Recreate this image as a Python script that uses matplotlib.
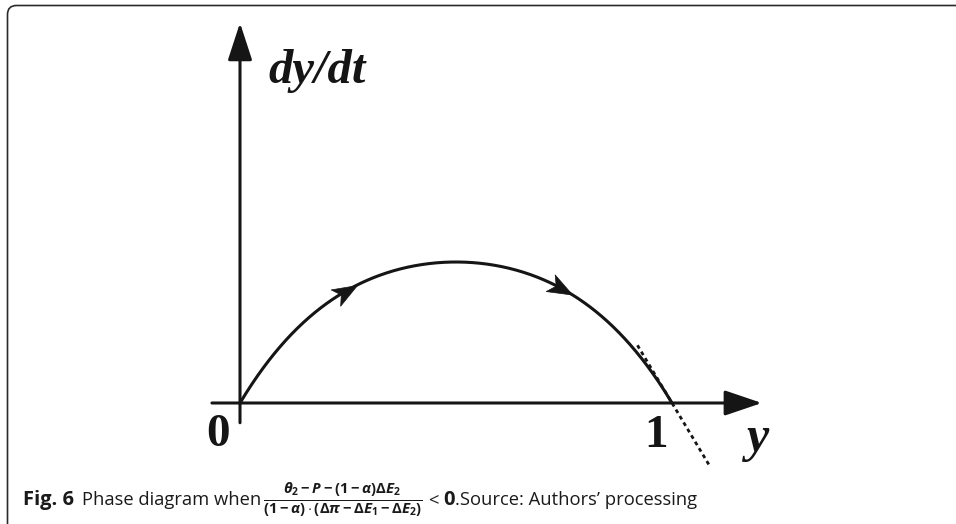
import numpy as np
import matplotlib.pyplot as plt
from matplotlib.markers import MarkerStyle
from matplotlib.patches import FancyBboxPatch
from matplotlib.path import Path

plt.rcParams["mathtext.fontset"] = "custom"
plt.rcParams["mathtext.rm"] = "Open Sans:bold"
plt.rcParams["mathtext.it"] = "Open Sans:bold:italic"
plt.rcParams["mathtext.bf"] = "Open Sans:bold"

# phase dynamic dy/dt = k * y * (1 - y) * (1 + c * (2y - 1)^2)
k_rate = 1.0
c_shape = 0.28
equilibria = [0.0, 1.0]
flow_arrow_y = [0.243, 0.741]
tangent_span = [0.92, 1.088]
eq_labels = ["0", "1"]
x_label = "y"
y_label = "dy/dt"


def phase(y):
    y = np.asarray(y, dtype=float)
    return k_rate * y * (1 - y) * (1 + c_shape * (2 * y - 1) ** 2)


W, H = 956, 524
INK = "#151515"

# pixel layout of the phase plane
origin_px = (240, 403)
unit_x_px = 432
unit_y_px = 564
ax_box_px = (200, 15, 800, 475)  # left, top, right, bottom

fig = plt.figure(figsize=(W / 100, H / 100), dpi=100)
fig.patch.set_facecolor("white")

l, t, r, b = ax_box_px
ax = fig.add_axes([l / W, (H - b) / H, (r - l) / W, (b - t) / H])
ax.set_xlim((l - origin_px[0]) / unit_x_px, (r - origin_px[0]) / unit_x_px)
ax.set_ylim((origin_px[1] - b) / unit_y_px, (origin_px[1] - t) / unit_y_px)
ax.axis("off")

lw = 2.2

# axes with arrow heads
x_end = 1.208
y_end = 0.674
ax.annotate("", xy=(x_end, 0), xytext=(-0.065, 0),
            arrowprops=dict(arrowstyle="-|>,head_length=23,head_width=7.8",
                            mutation_scale=1, lw=lw, color=INK, fc=INK,
                            shrinkA=0, shrinkB=0))
ax.annotate("", xy=(0, y_end), xytext=(0, -0.035),
            arrowprops=dict(arrowstyle="-|>,head_length=23,head_width=7.5",
                            mutation_scale=1, lw=lw, color=INK, fc=INK,
                            shrinkA=0, shrinkB=0))

# phase curve
ys = np.linspace(equilibria[0], equilibria[1], 300)
ax.plot(ys, phase(ys), color=INK, lw=lw, solid_capstyle="butt")

# tangent at the stable point y = 1
slope_end = -k_rate * (1 + c_shape)
tx = np.array(tangent_span)
ax.plot(tx, slope_end * (tx - equilibria[1]), color=INK, lw=2.0,
        linestyle=(0, (1.4, 1.3)))

# flow direction heads along the curve
stealth = Path([(1.0, 0.0), (-0.8, 0.68), (-0.35, 0.0), (-0.8, -0.68), (1.0, 0.0)],
               [Path.MOVETO, Path.LINETO, Path.LINETO, Path.LINETO, Path.CLOSEPOLY])
for yv in flow_arrow_y:
    p0 = ax.transData.transform((yv, phase(yv)))
    y2 = yv + 1e-3
    p1 = ax.transData.transform((y2, phase(y2)))
    ang = np.degrees(np.arctan2(p1[1] - p0[1], p1[0] - p0[0]))
    m = MarkerStyle(stealth).rotated(deg=ang)
    ax.plot([yv], [phase(yv)], marker=m, markersize=20,
            color=INK, mec=INK, mew=0.5, linestyle="none")

# labels
serif_b = dict(family="Liberation Serif", weight="bold", color=INK)
ax.annotate(eq_labels[0], xy=(equilibria[0], 0), xytext=(-22, -43),
            textcoords="offset pixels", ha="center", va="baseline",
            fontsize=34, **serif_b)
ax.annotate(eq_labels[1], xy=(equilibria[1], 0), xytext=(-16, -44),
            textcoords="offset pixels", ha="center", va="baseline",
            fontsize=34, **serif_b)
fig.text(747 / W, (H - 451) / H, x_label, ha="left", va="baseline",
         fontsize=36, style="italic", **serif_b)
fig.text(268 / W, (H - 83) / H, y_label, ha="left", va="baseline",
         fontsize=35, style="italic", **serif_b)

# rounded frame, open past the right and bottom edges
frame_ax = fig.add_axes([0, 0, 1, 1], zorder=-1)
frame_ax.set_xlim(0, W)
frame_ax.set_ylim(H, 0)
frame_ax.axis("off")
frame_ax.add_patch(FancyBboxPatch((7.5, 5.5), W + 40, H + 10,
                                  boxstyle="round,pad=0,rounding_size=9",
                                  fill=False, ec="#2a2a2a", lw=1.2))

# caption
cap_y = (H - 505) / H
cap = dict(family="Open Sans", fontsize=13.2, color="#1a1a1a", va="baseline")
fig.text(23 / W, cap_y, "Fig. 6", weight="bold",
         **{**cap, "fontsize": 14.5})
fig.text(82 / W, cap_y, "Phase diagram when", **cap)
fig.text(263 / W, (H - 500) / H,
         r"$\frac{\theta_2 - P - (1 - \alpha)\Delta E_2}"
         r"{(1 - \alpha)\cdot(\Delta\pi - \Delta E_1 - \Delta E_2)}$",
         family="Open Sans", fontsize=15.3, color="#1a1a1a",
         ha="left", va="center")
fig.text(428 / W, cap_y, "<", **cap)
fig.text(443 / W, cap_y, "0", weight="bold", **{**cap, "fontsize": 14.5})
fig.text(455 / W, cap_y, ".Source: Authors\u2019 processing", **cap)

fig.savefig("out.png", dpi=100)
